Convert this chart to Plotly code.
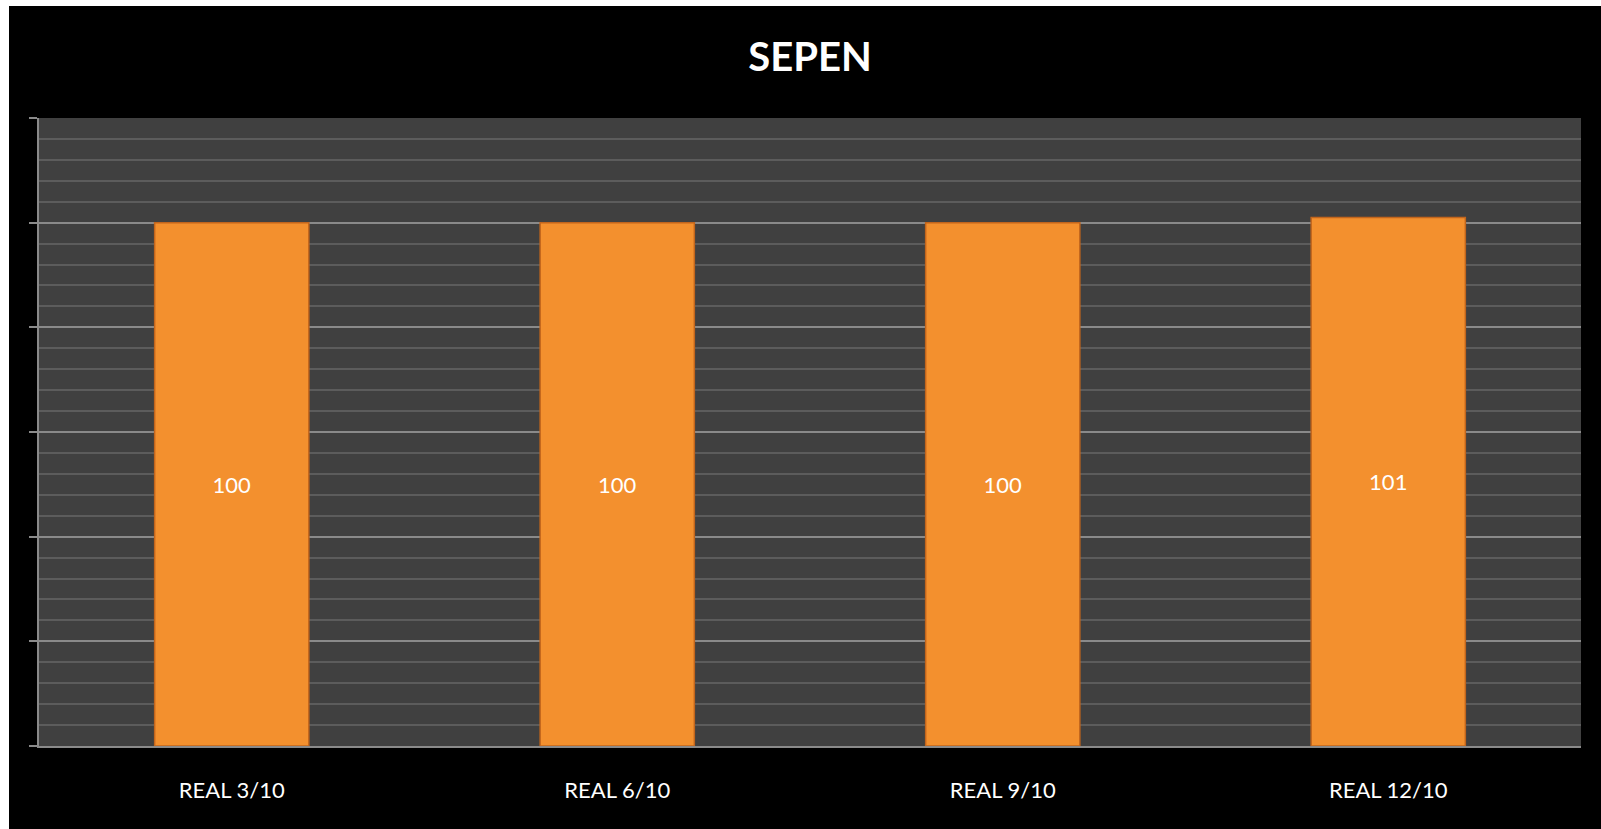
import plotly.graph_objects as go

categories = ["REAL 3/10", "REAL 6/10", "REAL 9/10", "REAL 12/10"]
values = [100, 100, 100, 101]
title_text = "SEPEN"

bar_color = "#F3902E"
font_family = "Lato, 'Open Sans', sans-serif"

fig = go.Figure()
fig.add_trace(go.Bar(
    x=categories,
    y=values,
    text=[str(v) for v in values],
    textposition="inside",
    insidetextanchor="middle",
    textfont=dict(color="white", size=22, family=font_family),
    marker=dict(color=bar_color, line=dict(color="#C2651C", width=1.5)),
    width=0.4,
    hoverinfo="x+y",
))

fig.update_layout(
    width=1592,
    height=823,
    margin=dict(l=30, r=20, t=112, b=83),
    paper_bgcolor="black",
    plot_bgcolor="#404040",
    showlegend=False,
    title=dict(
        text="<b>" + title_text + "</b>",
        x=0.5, xref="paper", xanchor="center",
        y=1 - 51 / 823, yref="container", yanchor="middle",
        font=dict(color="white", size=40, family=font_family),
    ),
    font=dict(family=font_family, color="white"),
)

fig.update_xaxes(
    showgrid=False,
    showline=True, linecolor="#8a8a8a", linewidth=2,
    ticks="", ticklabelstandoff=24,
    tickfont=dict(color="white", size=22, family=font_family),
)
fig.update_yaxes(
    range=[0, 120],
    dtick=20,
    showticklabels=False,
    showline=True, linecolor="#8a8a8a", linewidth=2,
    ticks="outside", ticklen=8, tickcolor="#8a8a8a", tickwidth=2,
    showgrid=True, gridcolor="#8a8a8a", gridwidth=1.5,
    zeroline=False,
    minor=dict(dtick=4, showgrid=True, gridcolor="#5c5c5c", gridwidth=1.5, ticks=""),
)

fig.write_html(
    "out.html",
    post_script="document.body.style.margin='6px 0 0 9px';document.body.style.overflow='hidden';",
)
